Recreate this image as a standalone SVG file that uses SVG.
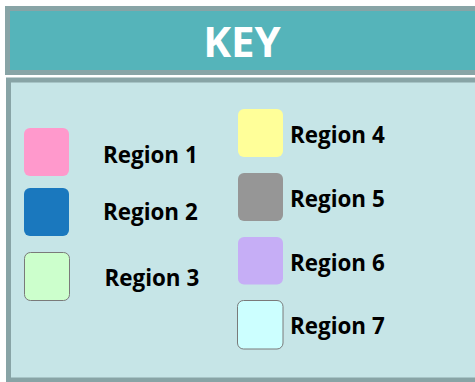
<svg xmlns="http://www.w3.org/2000/svg" width="475" height="382" viewBox="0 0 475 382">
<style>
.lbl{font-family:"Open Sans","Noto Sans","Liberation Sans",sans-serif;font-weight:700;font-size:22.4px;fill:#000}
.sw{stroke:none}
.sw-o{stroke:#7a7a7a;stroke-width:1}
</style>
<rect width="475" height="382" fill="#ffffff"/>
<g id="header">
<rect x="7.5" y="8.5" width="475" height="64" fill="#55b4ba" stroke="#88a4a6" stroke-width="5"/>
<text x="242" y="56.7" text-anchor="middle" font-family="'Open Sans','Noto Sans','Liberation Sans',sans-serif" font-weight="700" font-size="42" fill="#ffffff">KEY</text>
</g>
<g id="panel">
<rect x="8.5" y="80" width="475" height="300" fill="#c6e5e7" stroke="#88a4a6" stroke-width="5"/>
</g>
<g id="region1">
<rect class="sw" x="24" y="128" width="45" height="48" rx="6" fill="#ff99cc"/>
<text class="lbl" x="103" y="162.7">Region 1</text>
</g>
<g id="region2">
<rect class="sw" x="24" y="188" width="45" height="48" rx="6" fill="#1a78be"/>
<text class="lbl" x="103" y="220.3">Region 2</text>
</g>
<g id="region3">
<rect class="sw-o" x="24.5" y="252.5" width="45" height="48" rx="6" fill="#ccffcc"/>
<text class="lbl" x="104.5" y="286">Region 3</text>
</g>
<g id="region4">
<rect class="sw" x="238" y="109" width="45" height="48" rx="6" fill="#ffff99"/>
<text class="lbl" x="290" y="142.7">Region 4</text>
</g>
<g id="region5">
<rect class="sw" x="238" y="173" width="45" height="48" rx="6" fill="#969696"/>
<text class="lbl" x="290" y="206.7">Region 5</text>
</g>
<g id="region6">
<rect class="sw" x="238" y="237" width="45" height="47.5" rx="6" fill="#c6aef6"/>
<text class="lbl" x="290" y="270.7">Region 6</text>
</g>
<g id="region7">
<rect class="sw-o" x="237.5" y="300.5" width="45.5" height="48.5" rx="6" fill="#ccffff"/>
<text class="lbl" x="290" y="334.3">Region 7</text>
</g>
<g id="connectors"></g>
</svg>
